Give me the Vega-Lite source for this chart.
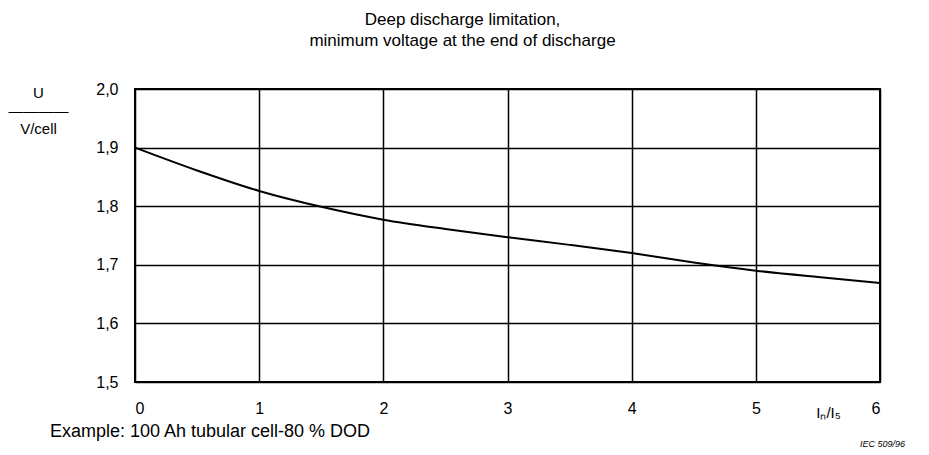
{
  "$schema": "https://vega.github.io/schema/vega-lite/v6.json",
  "width": 745,
  "height": 293,
  "autosize": {"type": "none"},
  "padding": {"left": 135, "top": 89, "right": 49, "bottom": 73},
  "background": "white",
  "config": {
    "font": "Liberation Sans",
    "view": {"stroke": "black", "strokeWidth": 2},
    "axis": {"domain": false, "ticks": false, "grid": true, "gridColor": "black", "gridWidth": 1.5, "gridOpacity": 1, "labelColor": "black", "labelFont": "Liberation Sans", "labelFontSize": 16, "titleColor": "black", "titleFont": "Liberation Sans", "titleFontWeight": "normal"}
  },
  "title": {
    "text": ["Deep discharge limitation,", "minimum voltage at the end of discharge"],
    "fontSize": 17,
    "fontWeight": "normal",
    "font": "Liberation Sans",
    "color": "black",
    "lineHeight": 21,
    "anchor": "middle",
    "frame": "group",
    "dx": -45,
    "offset": 31
  },
  "layer": [
    {
      "data": {
        "values": [
          {"ratio": 0, "voltage": 1.9},
          {"ratio": 0.5, "voltage": 1.861},
          {"ratio": 1, "voltage": 1.826},
          {"ratio": 1.5, "voltage": 1.799},
          {"ratio": 2, "voltage": 1.777},
          {"ratio": 2.5, "voltage": 1.761},
          {"ratio": 3, "voltage": 1.747},
          {"ratio": 3.5, "voltage": 1.734},
          {"ratio": 4, "voltage": 1.72},
          {"ratio": 4.5, "voltage": 1.704},
          {"ratio": 5, "voltage": 1.69},
          {"ratio": 5.5, "voltage": 1.679},
          {"ratio": 6, "voltage": 1.669}
        ]
      },
      "mark": {"type": "line", "color": "black", "strokeWidth": 2, "interpolate": "monotone"},
      "encoding": {
        "x": {
          "field": "ratio", "type": "quantitative",
          "scale": {"domain": [0, 6], "nice": false, "zero": false},
          "axis": {"values": [0, 1, 2, 3, 4, 5, 6], "format": "d", "labelPadding": 18, "title": "Iₙ/I₅", "titleFontSize": 15, "titleX": 693, "titleY": 30, "titleAlign": "center", "titleBaseline": "middle"}
        },
        "y": {
          "field": "voltage", "type": "quantitative",
          "scale": {"domain": [1.5, 2.0], "nice": false, "zero": false},
          "axis": {"values": [1.5, 1.6, 1.7, 1.8, 1.9, 2.0], "labelPadding": 17, "labelExpr": "replace(format(datum.value, '.1f'), '.', ',')", "title": ["U", "————", "V/cell"], "titleAngle": 0, "titleFontSize": 15, "titleLineHeight": 18, "titleX": -97, "titleY": -4, "titleAlign": "center", "titleBaseline": "top"}
        }
      }
    },
    {
      "data": {"values": [{"note": "Example: 100 Ah tubular cell-80 % DOD"}]},
      "mark": {"type": "text", "align": "left", "baseline": "middle", "fontSize": 18, "font": "Liberation Sans", "color": "black"},
      "encoding": {
        "x": {"datum": -0.685},
        "y": {"datum": 1.4147},
        "text": {"field": "note"}
      }
    },
    {
      "data": {"values": [{"note": "IEC 509/96"}]},
      "mark": {"type": "text", "align": "left", "baseline": "middle", "fontSize": 9, "fontStyle": "italic", "font": "Liberation Sans", "color": "black"},
      "encoding": {
        "x": {"datum": 5.839},
        "y": {"datum": 1.394},
        "text": {"field": "note"}
      }
    }
  ]
}
